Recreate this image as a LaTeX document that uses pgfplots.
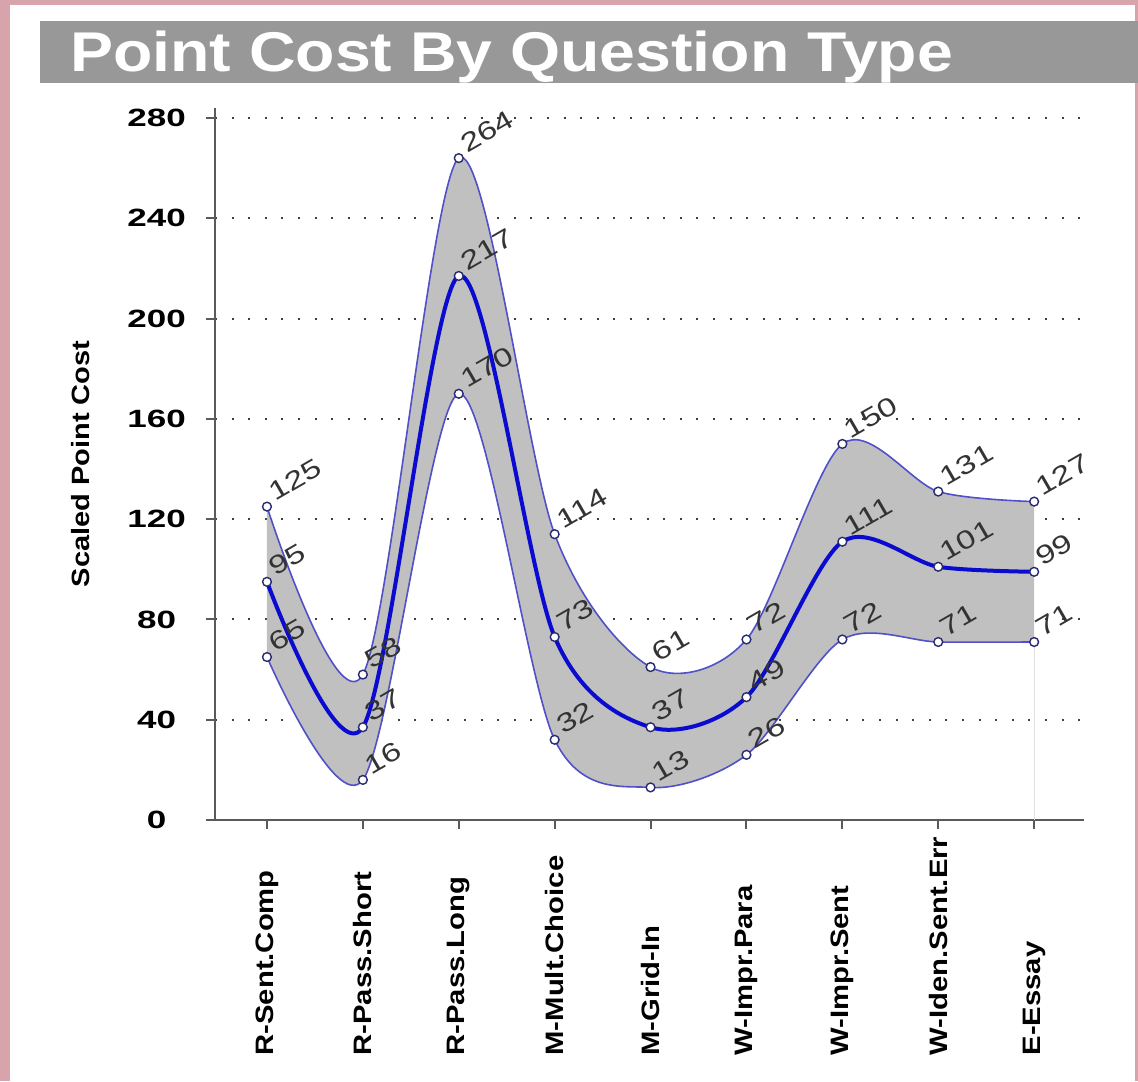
\documentclass[border=0pt]{standalone}
\usepackage{fontspec}
\setmainfont{Liberation Sans}
\newfontfamily\titlef[FakeStretch=1.15]{Liberation Sans}
\newfontfamily\ytickf[FakeStretch=1.4]{Liberation Sans}
\newfontfamily\xtickf[FakeStretch=1.16]{Liberation Sans}
\newfontfamily\labf[FakeStretch=1.3]{Liberation Sans}
\usepackage{pgfplots}
\pgfplotsset{compat=1.18}
\usepgfplotslibrary{fillbetween}

\definecolor{pinkbg}{HTML}{D8A4AB}
\definecolor{titlegray}{HTML}{989898}
\definecolor{fillgray}{HTML}{C0C0C0}
\definecolor{edgeblue}{HTML}{5050C8}
\definecolor{midblue}{HTML}{0A0AD0}
\definecolor{markdraw}{HTML}{2A2A70}
\definecolor{labelgray}{HTML}{333333}
\definecolor{axisgray}{HTML}{5A5A5A}

\begin{document}
\begin{tikzpicture}
\begin{axis}[
  set layers,
  at={(107.5pt,130.5pt)}, anchor=south west,
  scale only axis, width=434.5pt, height=356pt,
  xmin=-0.542, xmax=8.52, ymin=0, ymax=284,
  clip=false,
  axis lines=left,
  axis line style={-, draw=axisgray, line width=1pt},
  tick align=outside, major tick length=4.5pt,
  tick style={axisgray, line width=1pt},
  xtick={0,...,8},
  xticklabels={R-Sent.Comp,R-Pass.Short,R-Pass.Long,M-Mult.Choice,M-Grid-In,W-Impr.Para,W-Impr.Sent,W-Iden.Sent.Err,E-Essay},
  xticklabel style={font=\xtickf\bfseries\fontsize{12.6}{14}\selectfont, rotate=90, anchor=east,
    text width=115pt, align=left, inner sep=0pt},
  xticklabel shift=-2pt,
  ytick={0,40,...,280},
  yticklabel style={font=\ytickf\bfseries\fontsize{12.5}{14}\selectfont, text width=34pt,
    align=center, inner sep=0pt},
  yticklabel shift=7.5pt,
  /pgf/number format/assume math mode=true,
  ymajorgrids,
  grid style={draw=black!75, line width=1pt, dash pattern=on 1pt off 7.3pt},
  ylabel={Scaled Point Cost},
  every axis y label/.style={at={(axis description cs:-0.155,0.5)}, rotate=90, anchor=center,
    font=\xtickf\bfseries\fontsize{12.5}{14}\selectfont},
  mark size=2.2pt,
  every node near coord/.append style={font=\labf\fontsize{13}{15}\selectfont, text=labelgray,
    rotate=30, anchor=base west, inner xsep=4.5pt, inner ysep=2pt},
]
\begin{pgfonlayer}{axis background}
\fill[pinkbg] (axis description cs:-0.24741,-0.36657) rectangle (axis description cs:1.06214,1.15169);
\fill[white] (axis description cs:-0.23590,-0.36657) rectangle (axis description cs:1.05869,1.14466);
\fill[titlegray] (axis description cs:-0.20138,1.03511) rectangle (axis description cs:1.06214,1.12219);
\end{pgfonlayer}
\node[anchor=base west, inner sep=0pt, text=white, font=\titlef\bfseries\fontsize{28}{32}\selectfont]
  at (axis description cs:-0.16686,1.05056) {Point Cost By Question Type};

% upper bound
\addplot[name path=upper, smooth, draw=edgeblue, line width=0.8pt, mark=*,
  mark options={solid, fill=white, draw=markdraw, line width=0.7pt}, nodes near coords]
  coordinates {(0,125) (1,58) (2,264) (3,114) (4,61) (5,72) (6,150) (7,131) (8,127)};
% lower bound
\addplot[name path=lower, smooth, draw=edgeblue, line width=0.8pt, mark=*,
  mark options={solid, fill=white, draw=markdraw, line width=0.7pt}, nodes near coords]
  coordinates {(0,65) (1,16) (2,170) (3,32) (4,13) (5,26) (6,72) (7,71) (8,71)};
\addplot[fillgray] fill between[of=upper and lower];
\draw[black!12, line width=0.6pt] (axis cs:8,0) -- (axis cs:8,71);
% mean
\addplot[smooth, draw=midblue, line width=2pt, mark=*,
  mark options={solid, fill=white, draw=markdraw, line width=0.7pt}, nodes near coords]
  coordinates {(0,95) (1,37) (2,217) (3,73) (4,37) (5,49) (6,111) (7,101) (8,99)};
\end{axis}
\end{tikzpicture}
\end{document}
